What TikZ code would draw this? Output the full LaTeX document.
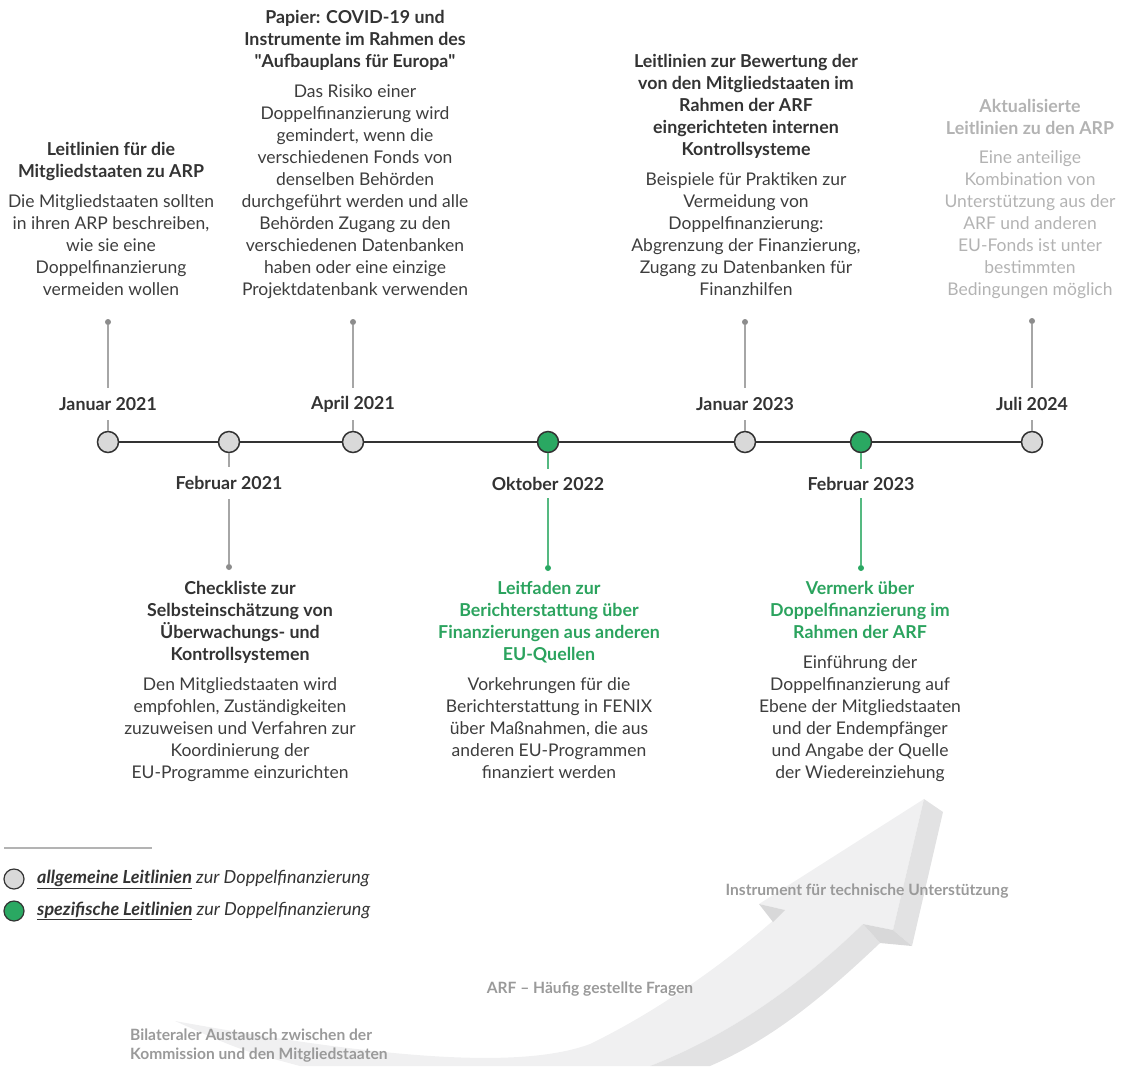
\documentclass[tikz,border=0pt]{standalone}
\usepackage{fontspec}
\setmainfont{Lato}
\definecolor{txt}{HTML}{3D3D3D}
\definecolor{ttl}{HTML}{333333}
\definecolor{grn}{HTML}{2AA862}
\definecolor{grnt}{HTML}{2BA35E}
\definecolor{gfill}{HTML}{D9D9D9}
\definecolor{conn}{HTML}{A6A6A6}
\definecolor{dotg}{HTML}{8C8C8C}
\definecolor{lite}{HTML}{B3B3B3}
\definecolor{arlab}{HTML}{9A9A9A}
\definecolor{afront}{HTML}{F0F0F1}
\definecolor{aside}{HTML}{E2E2E3}
\definecolor{adark}{HTML}{D8D8D9}
\newcommand{\hd}[1]{{\fontsize{17.8}{22}\selectfont\bfseries #1}}
\begin{document}
\begin{tikzpicture}[x=1pt,y=-1pt,
  blk/.style={align=center,inner sep=0pt,anchor=base,text=txt,font=\fontsize{17.5}{22}\selectfont},
  date/.style={inner sep=0pt,minimum height=32pt,text=ttl,font=\fontsize{17.8}{20}\selectfont\bfseries},
  gcirc/.style={circle,draw=ttl,line width=1.5pt,fill=gfill,minimum size=21pt,inner sep=0pt},
  scirc/.style={gcirc,fill=grn},
  gdot/.style={circle,fill=dotg,minimum size=6pt,inner sep=0pt},
  sdot/.style={circle,fill=grn,minimum size=6pt,inner sep=0pt},
  gline/.style={draw=conn,line width=1.5pt},
  sline/.style={draw=grn!80!white,line width=1.5pt},
  alab/.style={inner sep=0pt,text=arlab,font=\fontsize{15.6}{19}\selectfont\bfseries}
]
\useasboundingbox (0,0) rectangle (1126,1066);
% ---------- big 3D arrow ----------
\fill[afront] (175,1021) .. controls (380,1058) and (520,1070) .. (590,1044)
  .. controls (660,1010) and (730,960) .. (785,910)
  -- (759,904) -- (924,799) -- (893,930) -- (863,924)
  .. controls (800,985) and (730,1035) .. (650,1066)
  -- (300,1066) .. controls (240,1050) .. (175,1021) -- cycle;
\fill[aside] (863,924) -- (880,943) .. controls (820,1000) and (770,1040) .. (710,1066)
  -- (650,1066) .. controls (730,1035) and (800,985) .. (863,924) -- cycle;
\fill[aside] (924,799) -- (943,812) -- (912,946) -- (893,930) -- cycle;
\fill[adark] (863,924) -- (893,930) -- (912,946) -- (880,943) -- cycle;
\fill[adark] (759,904) -- (785,910) -- (773,922) -- cycle;
\node[alab] (a1) at (867,891) {Instrument für technische Unterstützung};
\node[alab] (a2) at (590,989) {ARF – Häufig gestellte Fragen};
\node[alab,align=left,anchor=west] (a3) at (130,1046) {Bilateraler Austausch zwischen der\\Kommission und den Mitgliedstaaten};
% ---------- timeline ----------
\node[gcirc] (c1) at (108,442) {};
\node[gcirc] (c2) at (229,442) {};
\node[gcirc] (c3) at (353,442) {};
\node[scirc] (c4) at (548,442) {};
\node[gcirc] (c5) at (745,442) {};
\node[scirc] (c6) at (861,442) {};
\node[gcirc] (c7) at (1032,442) {};
\draw[ttl,line width=1.5pt] (c1) -- (c2) -- (c3) -- (c4) -- (c5) -- (c6) -- (c7);
% date labels
\node[date] (l1) at (108,404) {Januar 2021};
\node[date] (l2) at (229,483) {Februar 2021};
\node[date] (l3) at (353,404) {April 2021};
\node[date,minimum height=29pt] (l4) at (548,483.5) {Oktober 2022};
\node[date] (l5) at (745,404) {Januar 2023};
\node[date,minimum height=29pt] (l6) at (861,483.5) {Februar 2023};
\node[date] (l7) at (1032,404) {Juli 2024};
% dots
\node[gdot] (d1) at (108,322) {};
\node[gdot] (d2) at (229,567) {};
\node[gdot] (d3) at (353,322) {};
\node[sdot] (d4) at (548,568) {};
\node[gdot] (d5) at (745,322) {};
\node[sdot] (d6) at (861,568) {};
\node[gdot] (d7) at (1032,321) {};
% connectors
\draw[gline] (d1) -- (l1) (l1) -- (c1);
\draw[gline] (c2) -- (l2) (l2) -- (d2);
\draw[gline] (d3) -- (l3) (l3) -- (c3);
\draw[sline] (c4) -- (l4) (l4) -- (d4);
\draw[gline] (d5) -- (l5) (l5) -- (c5);
\draw[sline] (c6) -- (l6) (l6) -- (d6);
\draw[gline] (d7) -- (l7) (l7) -- (c7);
% ---------- text blocks (anchor = baseline of last line) ----------
\node[blk] (b1) at (111,295) {\textcolor{ttl}{\hd{Leitlinien für die}}\\
  \textcolor{ttl}{\hd{Mitgliedstaaten zu ARP}}\\[8pt]
  Die Mitgliedstaaten sollten\\ in ihren ARP beschreiben,\\ wie sie eine\\ Doppelfinanzierung\\ vermeiden wollen};
\node[blk] (b3) at (355,295) {\textcolor{ttl}{\hd{Papier: COVID-19 und}}\\
  \textcolor{ttl}{\hd{Instrumente im Rahmen des}}\\
  \textcolor{ttl}{\hd{\textquotedbl Aufbauplans für Europa\textquotedbl}}\\[8pt]
  Das Risiko einer\\ Doppelfinanzierung wird\\ gemindert, wenn die\\ verschiedenen Fonds von\\ denselben Behörden\\ durchgeführt werden und alle\\ Behörden Zugang zu den\\ verschiedenen Datenbanken\\ haben oder eine einzige\\ Projektdatenbank verwenden};
\node[blk] (b5) at (746,295) {\textcolor{ttl}{\hd{Leitlinien zur Bewertung der}}\\
  \textcolor{ttl}{\hd{von den Mitgliedstaaten im}}\\
  \textcolor{ttl}{\hd{Rahmen der ARF}}\\
  \textcolor{ttl}{\hd{eingerichteten internen}}\\
  \textcolor{ttl}{\hd{Kontrollsysteme}}\\[8pt]
  Beispiele für Praktiken zur\\ Vermeidung von\\ Doppelfinanzierung:\\ Abgrenzung der Finanzierung,\\ Zugang zu Datenbanken für\\ Finanzhilfen};
\node[blk,text=lite] (b7) at (1030,295) {\hd{Aktualisierte}\\
  \hd{Leitlinien zu den ARP}\\[7pt]
  Eine anteilige\\ Kombination von\\ Unterstützung aus der\\ ARF und anderen\\ EU-Fonds ist unter\\ bestimmten\\ Bedingungen möglich};
\node[blk] (b2) at (240,778) {\textcolor{ttl}{\hd{Checkliste zur}}\\
  \textcolor{ttl}{\hd{Selbsteinschätzung von}}\\
  \textcolor{ttl}{\hd{Überwachungs- und}}\\
  \textcolor{ttl}{\hd{Kontrollsystemen}}\\[8pt]
  Den Mitgliedstaaten wird\\ empfohlen, Zuständigkeiten\\ zuzuweisen und Verfahren zur\\ Koordinierung der\\ EU-Programme einzurichten};
\node[blk] (b4) at (549,778) {\textcolor{grnt}{\hd{Leitfaden zur}}\\
  \textcolor{grnt}{\hd{Berichterstattung über}}\\
  \textcolor{grnt}{\hd{Finanzierungen aus anderen}}\\
  \textcolor{grnt}{\hd{EU-Quellen}}\\[8pt]
  Vorkehrungen für die\\ Berichterstattung in FENIX\\ über Maßnahmen, die aus\\ anderen EU-Programmen\\ finanziert werden};
\node[blk] (b6) at (860,778) {\textcolor{grnt}{\hd{Vermerk über}}\\
  \textcolor{grnt}{\hd{Doppelfinanzierung im}}\\
  \textcolor{grnt}{\hd{Rahmen der ARF}}\\[8pt]
  Einführung der\\ Doppelfinanzierung auf\\ Ebene der Mitgliedstaaten\\ und der Endempfänger\\ und Angabe der Quelle\\ der Wiedereinziehung};
% ---------- legend ----------
\coordinate (lg1) at (4,848);
\coordinate (lg2) at (152,848);
\draw[draw=lite,line width=2pt] (lg1) -- (lg2);
\node[gcirc,line width=1.2pt,minimum size=20pt] (k1) at (14,879) {};
\node[scirc,line width=1.2pt,minimum size=20pt] (k2) at (14,911) {};
\node[inner sep=0pt,anchor=west,text=ttl,font=\fontsize{18}{20}\selectfont\itshape] (t1) at (37,879)
  {\underline{\bfseries allgemeine Leitlinien} zur Doppelfinanzierung};
\node[inner sep=0pt,anchor=west,text=ttl,font=\fontsize{18}{20}\selectfont\itshape] (t2) at (37,911)
  {\underline{\bfseries spezifische Leitlinien} zur Doppelfinanzierung};
\end{tikzpicture}
\end{document}
